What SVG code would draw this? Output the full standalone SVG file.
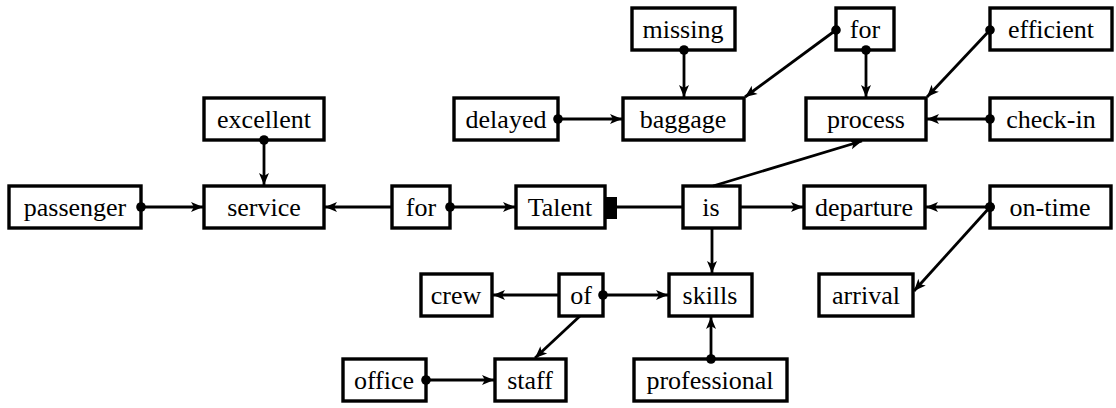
<svg xmlns="http://www.w3.org/2000/svg" width="1116" height="408" viewBox="0 0 1116 408">
  <style>
    .node rect { fill: #fff; stroke: #000; stroke-width: 3.4; }
    .node text { font-family: "Liberation Serif", "Times New Roman", serif; font-size: 26px; fill: #000; text-anchor: middle; }
    .edges line { stroke: #000; stroke-width: 2.8; fill: none; }
    .arr { marker-end: url(#arrow); }
    .dot { marker-start: url(#dot); }
  </style>
  <defs>
    <marker id="arrow" markerUnits="userSpaceOnUse" markerWidth="14" markerHeight="12" viewBox="-13 -6 14 12" refX="0" refY="0" orient="auto">
      <path d="M0,0 L-12,-5 L-9,0 L-12,5 Z" fill="#000"/>
    </marker>
    <marker id="dot" markerUnits="userSpaceOnUse" markerWidth="12" markerHeight="12" viewBox="-6 -6 12 12" refX="0" refY="0" orient="auto">
      <circle cx="0" cy="0" r="4.8" fill="#000"/>
    </marker>
  </defs>

  <!-- nodes -->
  <g id="passenger" class="node"><rect x="9" y="186" width="132" height="42"/><text x="75" y="216">passenger</text></g>
  <g id="service" class="node"><rect x="204" y="186" width="120" height="42"/><text x="264" y="216">service</text></g>
  <g id="excellent" class="node"><rect x="204" y="98" width="120" height="42"/><text x="264" y="128">excellent</text></g>
  <g id="for1" class="node"><rect x="392" y="186" width="58" height="42"/><text x="421" y="216">for</text></g>
  <g id="talent" class="node"><rect x="516" y="186" width="89" height="42"/><text x="560" y="216">Talent</text></g>
  <g id="is" class="node"><rect x="683" y="186" width="57" height="42"/><text x="711" y="216">is</text></g>
  <g id="departure" class="node"><rect x="804" y="186" width="121" height="42"/><text x="864" y="216">departure</text></g>
  <g id="on-time" class="node"><rect x="990" y="186" width="121" height="42"/><text x="1050" y="216">on-time</text></g>
  <g id="missing" class="node"><rect x="632" y="8" width="103" height="42"/><text x="683" y="38">missing</text></g>
  <g id="delayed" class="node"><rect x="454" y="98" width="104" height="42"/><text x="506" y="128">delayed</text></g>
  <g id="baggage" class="node"><rect x="623" y="98" width="121" height="42"/><text x="683" y="128">baggage</text></g>
  <g id="for2" class="node"><rect x="836" y="8" width="58" height="42"/><text x="865" y="38">for</text></g>
  <g id="efficient" class="node"><rect x="990" y="8" width="122" height="42"/><text x="1051" y="38">efficient</text></g>
  <g id="process" class="node"><rect x="806" y="98" width="120" height="42"/><text x="866" y="128">process</text></g>
  <g id="check-in" class="node"><rect x="990" y="98" width="122" height="42"/><text x="1051" y="128">check-in</text></g>
  <g id="crew" class="node"><rect x="421" y="274" width="71" height="42"/><text x="456" y="304">crew</text></g>
  <g id="of" class="node"><rect x="559" y="274" width="44" height="42"/><text x="581" y="304">of</text></g>
  <g id="skills" class="node"><rect x="669" y="274" width="83" height="42"/><text x="710" y="304">skills</text></g>
  <g id="arrival" class="node"><rect x="819" y="274" width="94" height="42"/><text x="866" y="304">arrival</text></g>
  <g id="office" class="node"><rect x="343" y="359" width="83" height="42"/><text x="384" y="389">office</text></g>
  <g id="staff" class="node"><rect x="495" y="359" width="71" height="42"/><text x="530" y="389">staff</text></g>
  <g id="professional" class="node"><rect x="634" y="359" width="153" height="42"/><text x="710" y="389">professional</text></g>

  <!-- connectors, drawn over the box borders -->
  <g id="edges" class="edges">
    <line class="dot arr" x1="141" y1="207" x2="203" y2="207"/>
    <line class="dot arr" x1="264" y1="140" x2="264" y2="185"/>
    <line class="arr" x1="392" y1="207" x2="325" y2="207"/>
    <line class="dot arr" x1="450" y1="207" x2="515" y2="207"/>
    <line x1="617" y1="207" x2="683" y2="207"/>
    <rect x="605" y="197" width="12" height="22" fill="#000"/>
    <line class="arr" x1="740" y1="207" x2="803" y2="207"/>
    <line class="dot arr" x1="990" y1="207" x2="926" y2="207"/>
    <line class="dot arr" x1="990" y1="207" x2="914" y2="291"/>
    <line class="arr" x1="713" y1="186" x2="862" y2="141"/>
    <line class="arr" x1="712" y1="228" x2="712" y2="273"/>
    <line class="dot arr" x1="684" y1="50" x2="684" y2="97"/>
    <line class="dot arr" x1="558" y1="119" x2="622" y2="119"/>
    <line class="dot arr" x1="836" y1="30" x2="745" y2="97"/>
    <line class="dot arr" x1="866" y1="50" x2="866" y2="97"/>
    <line class="dot arr" x1="990" y1="30" x2="927" y2="97"/>
    <line class="dot arr" x1="990" y1="119" x2="927" y2="119"/>
    <line class="arr" x1="559" y1="295" x2="493" y2="295"/>
    <line class="dot arr" x1="603" y1="295" x2="668" y2="295"/>
    <line class="arr" x1="580" y1="316" x2="535" y2="358"/>
    <line class="dot arr" x1="711" y1="359" x2="711" y2="317"/>
    <line class="dot arr" x1="426" y1="380" x2="494" y2="380"/>
  </g>
</svg>
